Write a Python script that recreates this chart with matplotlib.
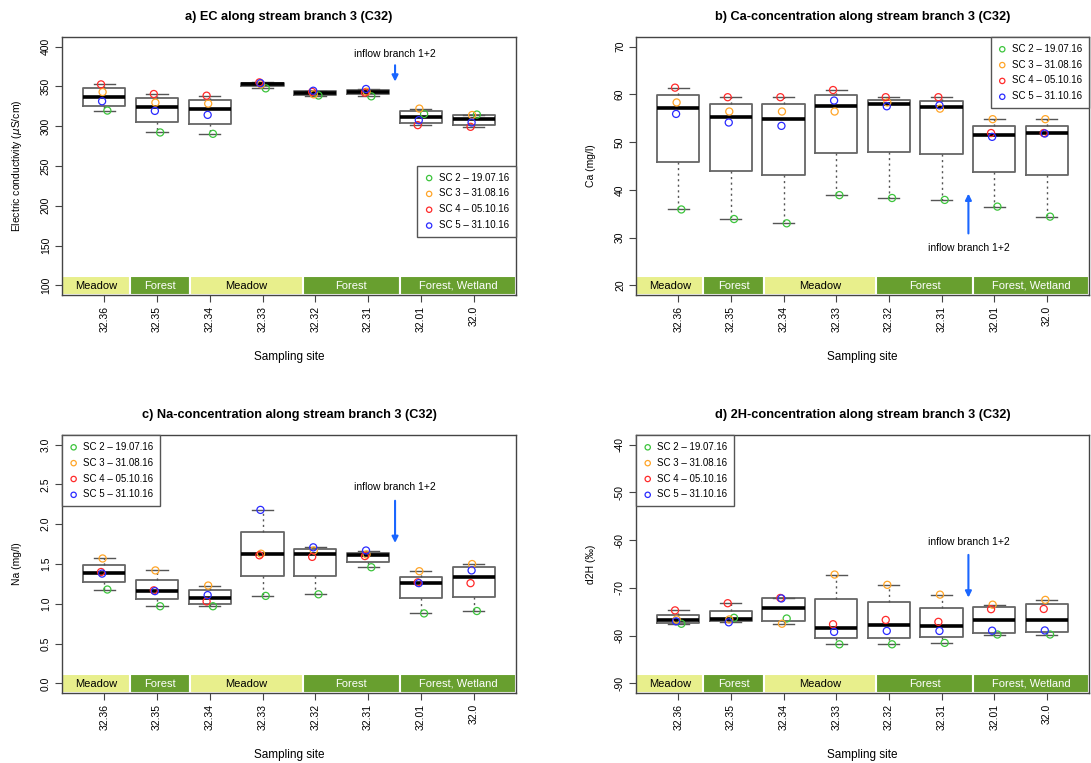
import numpy as np
import matplotlib.pyplot as plt
from matplotlib.patches import Rectangle

plt.rcParams['font.family'] = ['Liberation Sans', 'DejaVu Sans']

sites = ['32.36', '32.35', '32.34', '32.33', '32.32', '32.31', '32.01', '32.0']
campaigns = ['SC 2 – 19.07.16', 'SC 3 – 31.08.16', 'SC 4 – 05.10.16', 'SC 5 – 31.10.16']
camp_colors = ['#3cc43c', '#ffa528', '#ff2a2a', '#2a2aff']

# electric conductivity (uS/cm)
ec_sc2 = [319.6, 292.1, 290.4, 347.5, 338.5, 337.5, 315.4, 314.6]
ec_sc3 = [342.9, 329.6, 328.3, 352.5, 340.0, 343.3, 322.1, 314.0]
ec_sc4 = [352.5, 340.4, 338.3, 355.0, 343.0, 342.1, 301.3, 299.2]
ec_sc5 = [331.3, 319.2, 314.2, 354.0, 344.5, 346.7, 307.5, 304.6]

# calcium (mg/l)
ca_sc2 = [35.9, 33.9, 33.0, 38.9, 38.3, 37.9, 36.5, 34.4]
ca_sc3 = [58.3, 56.4, 56.4, 56.4, 58.3, 57.0, 54.8, 54.8]
ca_sc4 = [61.4, 59.4, 59.4, 60.9, 59.4, 59.4, 51.9, 51.9]
ca_sc5 = [55.9, 54.1, 53.4, 58.7, 57.5, 57.7, 51.1, 51.8]

# sodium (mg/l)
na_sc2 = [1.18, 0.97, 0.97, 1.10, 1.12, 1.46, 0.88, 0.91]
na_sc3 = [1.57, 1.42, 1.23, 1.63, 1.67, 1.62, 1.41, 1.50]
na_sc4 = [1.40, 1.17, 1.03, 1.61, 1.59, 1.60, 1.27, 1.26]
na_sc5 = [1.38, 1.16, 1.11, 2.18, 1.71, 1.67, 1.26, 1.42]

# deuterium (permil)
d2h_sc2 = [-77.5, -76.25, -76.4, -81.8, -81.8, -81.5, -79.75, -79.75]
d2h_sc3 = [-76.6, -76.6, -77.5, -67.2, -69.35, -71.4, -73.5, -72.5]
d2h_sc4 = [-74.7, -73.2, -72.1, -77.6, -76.7, -77.1, -74.45, -74.4]
d2h_sc5 = [-77.0, -77.2, -72.2, -79.2, -79.0, -79.0, -78.95, -78.9]

# land use along the stream
land_labels = ['Meadow', 'Forest', 'Meadow', 'Forest', 'Forest, Wetland']
land_edges = [0.2, 1.48, 2.63, 4.76, 6.6, 8.8]
land_dark = [False, True, False, True, True]

jit = [0.06, -0.03, -0.06, -0.04]


def fivenum(v):
    # Tukey hinges like R's boxplot
    v = np.sort(np.asarray(v, dtype=float))
    n = len(v)
    n4 = np.floor((n + 3) / 2) / 2
    d = np.array([1, n4, (n + 1) / 2, n + 1 - n4, n])
    return 0.5 * (v[np.floor(d).astype(int) - 1] + v[np.ceil(d).astype(int) - 1])


def panel(ax, title, ylabel, ylo, yhi, ystep, fmt, series, arrow, txt_y, leg_loc, leg_anchor):
    pos = np.arange(1, len(sites) + 1)
    vals = np.array(series)
    stats = []
    for i in range(len(sites)):
        f = fivenum(vals[:, i])
        stats.append(dict(whislo=f[0], q1=f[1], med=f[2], q3=f[3], whishi=f[4], fliers=[]))
    ax.bxp(stats, positions=pos, widths=0.8, capwidths=0.4, showfliers=False,
           boxprops=dict(color='#666666', lw=1.3),
           whiskerprops=dict(color='#555555', lw=1, linestyle=(0, (1.5, 2.5))),
           capprops=dict(color='#555555', lw=1),
           medianprops=dict(color='black', lw=2.6))
    for k in range(len(series)):
        ax.scatter(pos + jit[k], series[k], s=26, facecolors='none',
                   edgecolors=camp_colors[k], linewidths=0.9, zorder=5, label=campaigns[k])

    r = yhi - ylo
    ax.set_ylim(ylo - 0.04 * r, yhi + 0.04 * r)
    ax.set_xlim(0.2, 8.8)

    # land use strip
    tr = ax.get_xaxis_transform()
    for j in range(len(land_labels)):
        x0, x1 = land_edges[j], land_edges[j + 1]
        fc = '#689f2f' if land_dark[j] else '#e8ef8c'
        ax.add_patch(Rectangle((x0, 0.0), x1 - x0, 0.072, transform=tr, facecolor=fc,
                               edgecolor='white', lw=1.5, zorder=2))
        ax.text((x0 + x1) / 2, 0.036, land_labels[j], transform=tr, ha='center', va='center',
                fontsize=8, color='white' if land_dark[j] else 'black', zorder=3)

    ax.annotate('', xy=(arrow[0], arrow[2]), xytext=(arrow[0], arrow[1]),
                arrowprops=dict(arrowstyle='-|>', color='#1a66ff', lw=1.5, mutation_scale=9))
    ax.text(arrow[0], txt_y, 'inflow branch 1+2', ha='center', va='center', fontsize=7.5)

    yt = np.arange(ylo, yhi + ystep / 2, ystep)
    ax.set_yticks(yt)
    ax.set_yticklabels([fmt % t for t in yt], rotation=90, va='center', fontsize=7.5)
    ax.set_xticks(pos)
    ax.set_xticklabels(sites, rotation=90, fontsize=7.5)
    ax.tick_params(direction='out', length=5, color='#444444', pad=3)
    for s in ax.spines.values():
        s.set_color('#444444')
        s.set_linewidth(1)

    ax.set_title(title, fontsize=9.2, fontweight='bold', pad=12)
    ax.set_ylabel(ylabel, fontsize=7.5, va='center')
    ax.yaxis.set_label_coords(-0.1, 0.5)
    ax.set_xlabel('Sampling site', fontsize=8.5, va='center')
    ax.xaxis.set_label_coords(0.5, -0.24)

    leg = ax.legend(loc=leg_loc, bbox_to_anchor=leg_anchor, borderaxespad=0, fontsize=7,
                    fancybox=False, framealpha=1, edgecolor='#555555', handletextpad=0.5,
                    handlelength=1.0, borderpad=0.7, labelspacing=0.6, scatterpoints=1,
                    markerscale=0.75)
    leg.get_frame().set_linewidth(1)


fig = plt.figure(figsize=(10.91, 7.63), dpi=100)
ax_a = fig.add_axes([0.0568, 0.6134, 0.4161, 0.3381])
ax_b = fig.add_axes([0.583, 0.6134, 0.4152, 0.3381])
ax_c = fig.add_axes([0.0568, 0.0917, 0.4161, 0.3381])
ax_d = fig.add_axes([0.583, 0.0917, 0.4152, 0.3381])

panel(ax_a, 'a) EC along stream branch 3 (C32)', r'Electric conductivity ($\mu$S/cm)',
      100, 400, 50, '%d', [ec_sc2, ec_sc3, ec_sc4, ec_sc5], (6.51, 380, 352.5), 391,
      'lower right', (1, 0.225))
panel(ax_b, 'b) Ca-concentration along stream branch 3 (C32)', 'Ca (mg/l)',
      20, 70, 10, '%d', [ca_sc2, ca_sc3, ca_sc4, ca_sc5], (6.51, 30.3, 39.8), 27.9,
      'upper right', (1, 1))
panel(ax_c, 'c) Na-concentration along stream branch 3 (C32)', 'Na (mg/l)',
      0, 3, 0.5, '%.1f', [na_sc2, na_sc3, na_sc4, na_sc5], (6.51, 2.33, 1.73), 2.47,
      'upper left', (0, 1))
panel(ax_d, 'd) 2H-concentration along stream branch 3 (C32)', 'd2H (‰)',
      -90, -40, 10, '%d', [d2h_sc2, d2h_sc3, d2h_sc4, d2h_sc5], (6.51, -62.5, -72.6), -60.4,
      'upper left', (0, 1))

fig.savefig('out.png', dpi=100)
